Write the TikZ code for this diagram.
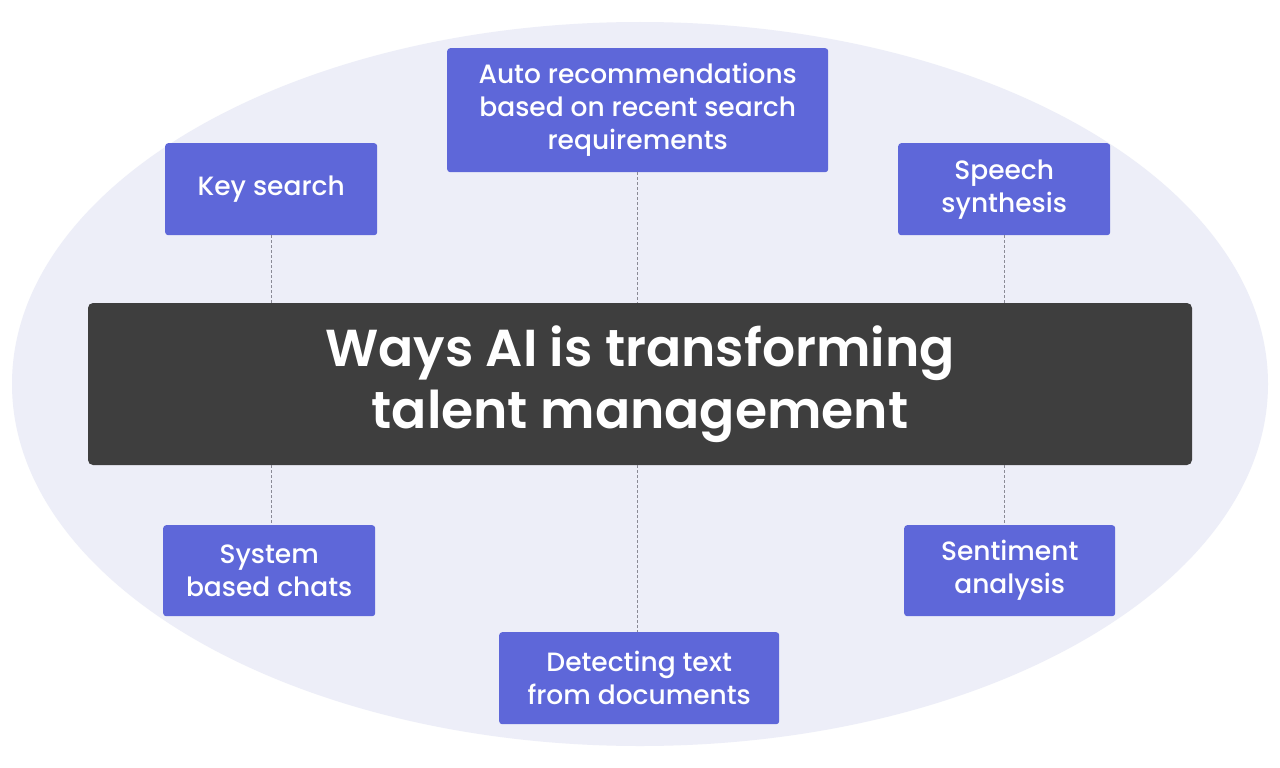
\documentclass[tikz,border=0pt]{standalone}
\usepackage{fontspec}
\setmainfont{Poppins}
\newfontfamily\lblfont{Poppins}[UprightFont=* Medium]
\newfontfamily\ttlfont{Poppins}[UprightFont=* SemiBold]
\definecolor{bgell}{HTML}{EDEEF8}
\definecolor{boxblue}{HTML}{5E67D9}
\definecolor{darkbar}{HTML}{3E3E3E}
\definecolor{linegray}{HTML}{8A8A95}
\begin{document}
\begin{tikzpicture}[x=1pt,y=-1pt,
  lbl/.style={fill=boxblue,rounded corners=3pt,text=white,align=center,
    font=\lblfont\fontsize{26.5}{33}\selectfont,inner sep=0pt,anchor=north west},
  link/.style={draw=linegray,dashed,dash pattern=on 3pt off 2pt,line width=0.8pt}]
\useasboundingbox (0,0) rectangle (1280,768);
\fill[white] (0,0) rectangle (1280,768);
\fill[bgell] (640,384) ellipse [x radius=628, y radius=362];
\node[fill=darkbar,rounded corners=5pt,minimum width=1104pt,minimum height=162pt,inner sep=0pt,
  text=white,align=center,font=\ttlfont\fontsize{52}{62}\selectfont] (title) at (640,384)
  {Ways AI is transforming\\talent management};
\node[lbl,minimum width=212pt,minimum height=92pt] (key) at (165,143) {Key search};
\node[lbl,minimum width=381pt,minimum height=124pt] (auto) at (447,48) {Auto recommendations\\based on recent search\\requirements};
\node[lbl,minimum width=212pt,minimum height=92pt] (speech) at (898,143) {Speech\\synthesis};
\node[lbl,minimum width=212pt,minimum height=91pt] (sys) at (163,525) {System\\based chats};
\node[lbl,minimum width=280pt,minimum height=92pt] (detect) at (499,632) {Detecting text\\from documents};
\node[lbl,minimum width=211pt,minimum height=91pt] (sent) at (904,525) {Sentiment\\analysis};
\draw[link] (key.south) -- (key.south |- title.north);
\draw[link] (auto.south) -- (auto.south |- title.north);
\draw[link] (speech.south) -- (speech.south |- title.north);
\draw[link] (title.south -| key.south) -- (sys.north -| key.south);
\draw[link] (title.south -| auto.south) -- (detect.north -| auto.south);
\draw[link] (title.south -| speech.south) -- (sent.north -| speech.south);
\end{tikzpicture}
\end{document}
